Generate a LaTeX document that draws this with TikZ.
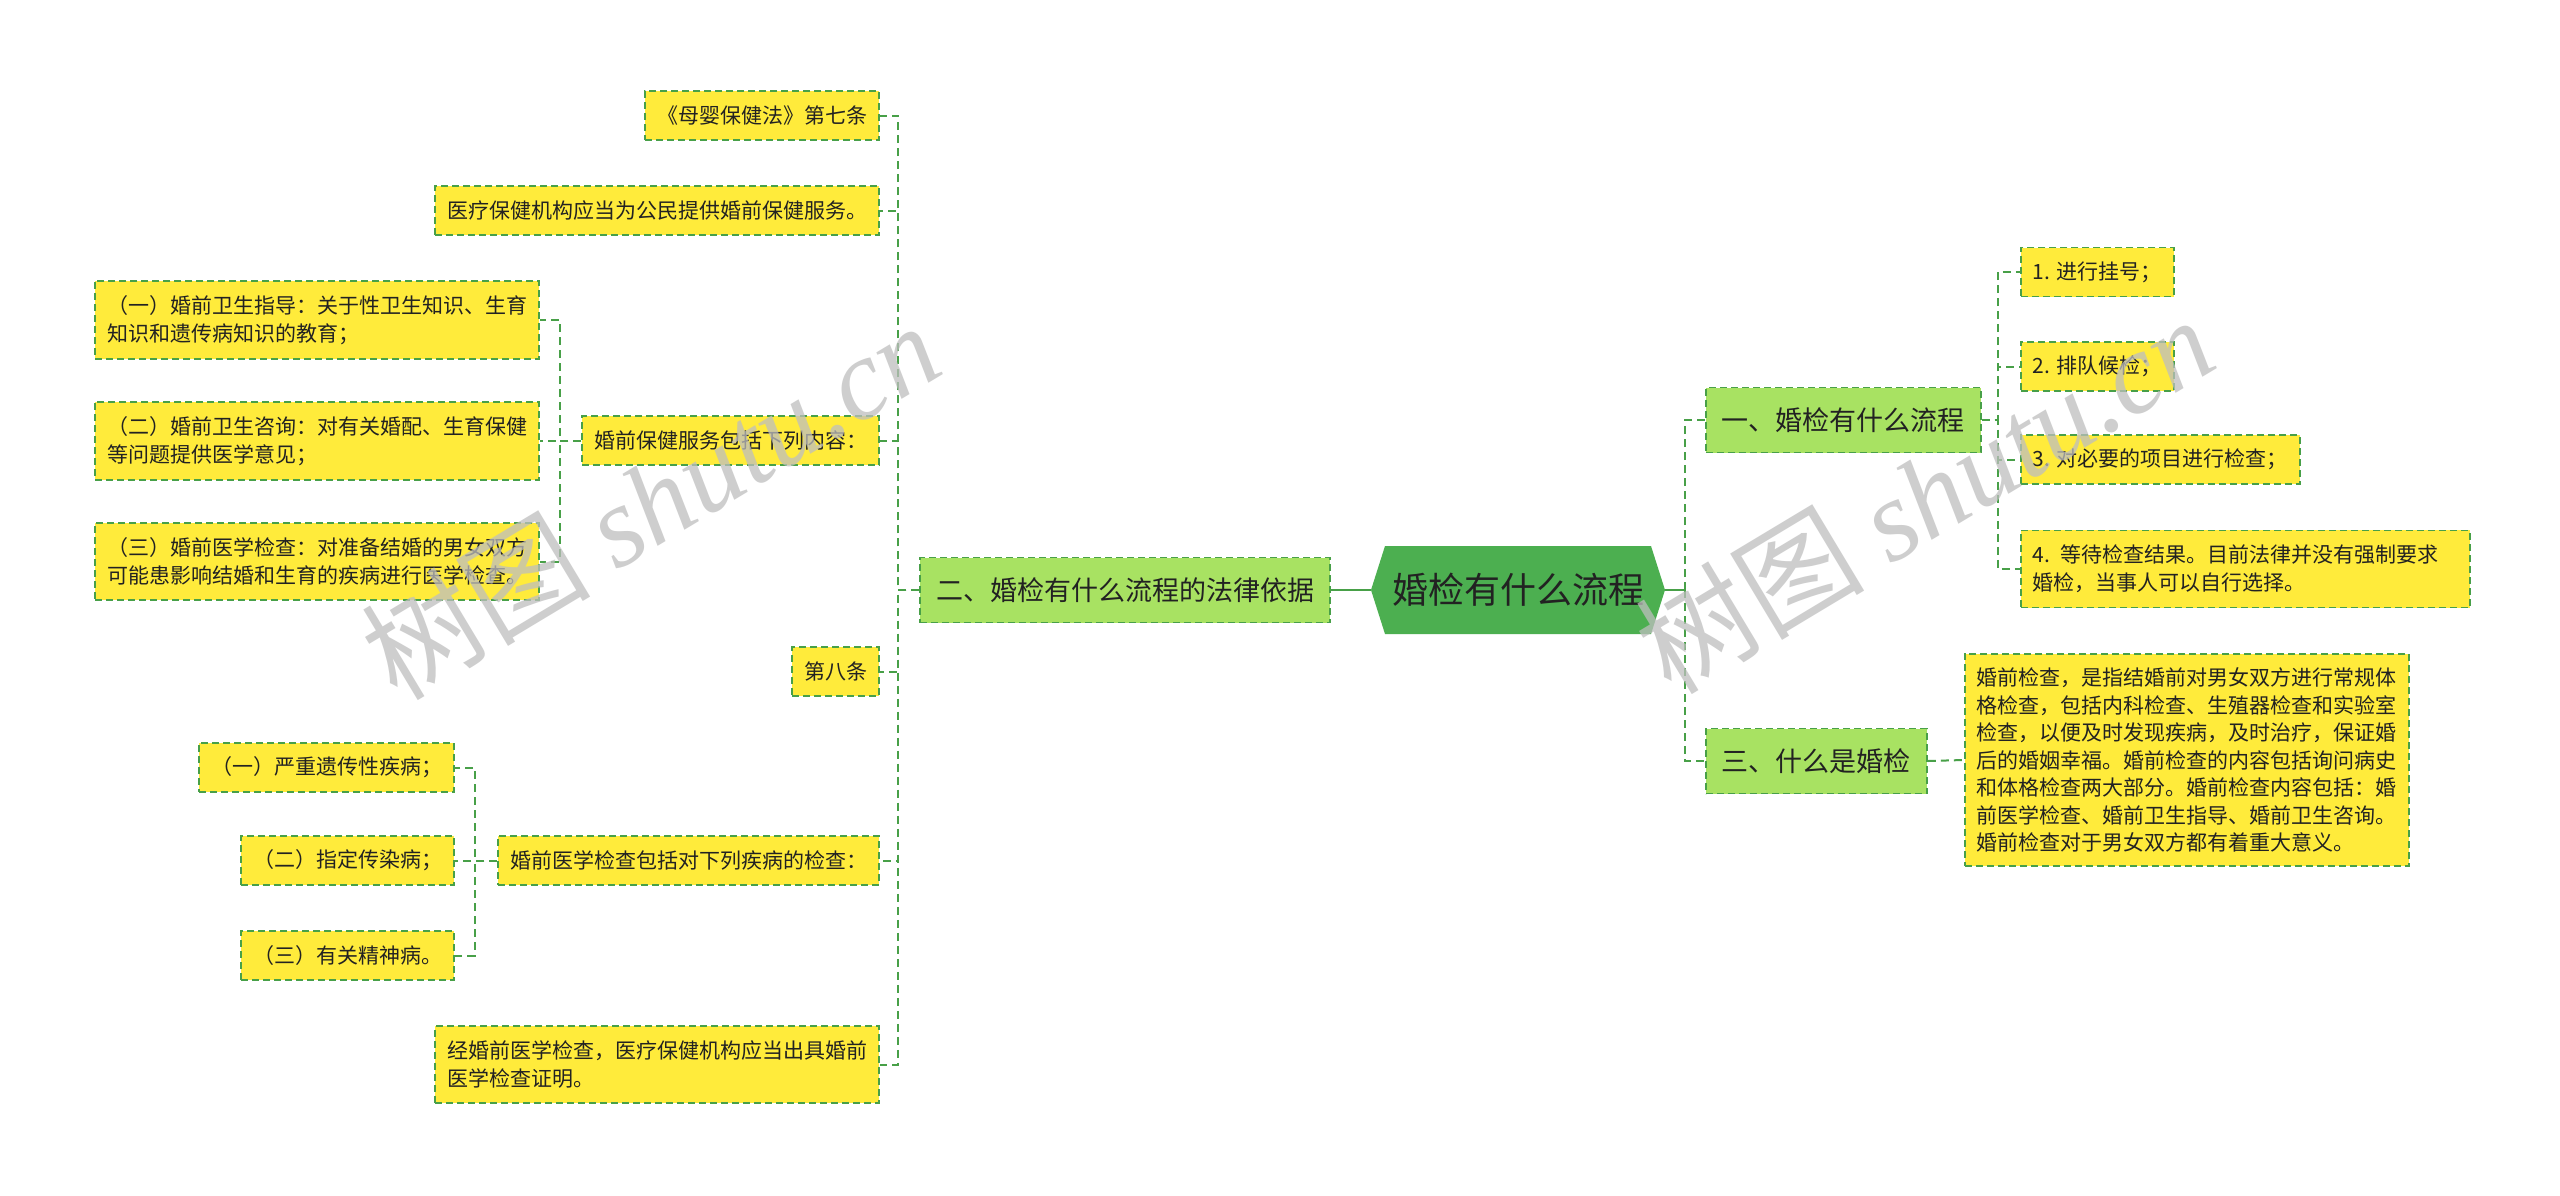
\documentclass[tikz,border=0pt]{standalone}
\usepackage{fontspec}
\setmainfont{Noto Sans CJK SC}
\newfontfamily\wmserif{Liberation Serif}
\usetikzlibrary{calc}
\definecolor{boxYellow}{RGB}{255,235,59}
\definecolor{lineGreen}{RGB}{72,160,72}
\definecolor{lvlGreen}{RGB}{168,226,98}
\definecolor{centerGreen}{RGB}{76,175,80}
\definecolor{textDark}{RGB}{34,34,34}
\definecolor{wmGray}{RGB}{190,190,190}
\tikzset{
  leaf/.style={draw=lineGreen, line width=1.8pt, dash pattern=on 7pt off 4pt, fill=boxYellow,
    font=\fontsize{21}{28}\selectfont, text=textDark, inner xsep=12pt, inner ysep=0pt,
    minimum height=49pt, align=left},
  multi/.style={leaf, inner ysep=14.5pt},
  bigbox/.style={leaf, font=\fontsize{21}{27.5}\selectfont, inner ysep=14pt},
  lvl/.style={draw=lineGreen, line width=1.8pt, dash pattern=on 7pt off 4pt, fill=lvlGreen,
    font=\fontsize{27}{32}\selectfont, text=textDark, inner xsep=16pt, inner ysep=0pt,
    minimum height=65pt},
  hexnode/.style={font=\fontsize{36}{40}\selectfont, text=textDark, minimum width=294pt,
    minimum height=88pt, inner sep=0pt},
  conn/.style={draw=lineGreen, line width=2pt, dash pattern=on 8pt off 5pt},
  solidconn/.style={draw=lineGreen, line width=2pt},
  watermark/.style={text=wmGray, opacity=0.75, font=\fontsize{115}{120}\selectfont, inner sep=0pt}
}
\begin{document}
\begin{tikzpicture}[x=1pt,y=-1pt]
\useasboundingbox (0,0) rectangle (2560,1195);
\fill[white] (0,0) rectangle (2560,1195);

% center hexagon
\fill[centerGreen] (1371,590) -- (1385,546) -- (1651,546) -- (1665,590) -- (1651,634) -- (1385,634) -- cycle;
\node[hexnode] (c) at (1518,590) {婚检有什么流程};

% level 1
\node[lvl, anchor=east] (L2) at (1331,590) {二、婚检有什么流程的法律依据};
\node[lvl, anchor=west] (L1) at (1705,420) {一、婚检有什么流程};
\node[lvl, anchor=west] (L3) at (1705,761) {三、什么是婚检};

% left leaves
\node[leaf, anchor=east] (n7) at (880,115.5) {《母婴保健法》第七条};
\node[leaf, anchor=east] (nYL) at (880,210.5) {医疗保健机构应当为公民提供婚前保健服务。};
\node[leaf, anchor=east] (nSvc) at (880,440.5) {婚前保健服务包括下列内容：};
\node[multi, anchor=east] (s1) at (540,320) {（一）婚前卫生指导：关于性卫生知识、生育\\知识和遗传病知识的教育；};
\node[multi, anchor=east] (s2) at (540,441) {（二）婚前卫生咨询：对有关婚配、生育保健\\等问题提供医学意见；};
\node[multi, anchor=east] (s3) at (540,561.5) {（三）婚前医学检查：对准备结婚的男女双方\\可能患影响结婚和生育的疾病进行医学检查。};
\node[leaf, anchor=east] (n8) at (880,671.5) {第八条};
\node[leaf, anchor=east] (nExam) at (880,860.5) {婚前医学检查包括对下列疾病的检查：};
\node[leaf, anchor=east] (e1) at (455,767.5) {（一）严重遗传性疾病；};
\node[leaf, anchor=east] (e2) at (455,860.5) {（二）指定传染病；};
\node[leaf, anchor=east] (e3) at (455,955.5) {（三）有关精神病。};
\node[multi, anchor=east] (nCert) at (880,1064.5) {经婚前医学检查，医疗保健机构应当出具婚前\\医学检查证明。};

% right leaves
\node[leaf, anchor=west] (r1) at (2020,272) {1. 进行挂号；};
\node[leaf, anchor=west] (r2) at (2020,366.5) {2. 排队候检；};
\node[leaf, anchor=west] (r3) at (2020,459.5) {3. 对必要的项目进行检查；};
\node[multi, anchor=west, text width=425pt] (r4) at (2020,569) {4. 等待检查结果。目前法律并没有强制要求\\婚检，当事人可以自行选择。};
\node[bigbox, anchor=west] (big) at (1964,760) {婚前检查，是指结婚前对男女双方进行常规体\\格检查，包括内科检查、生殖器检查和实验室\\检查，以便及时发现疾病，及时治疗，保证婚\\后的婚姻幸福。婚前检查的内容包括询问病史\\和体格检查两大部分。婚前检查内容包括：婚\\前医学检查、婚前卫生指导、婚前卫生咨询。\\婚前检查对于男女双方都有着重大意义。};

% trunk coordinates
\coordinate (tL) at (898,590);
\coordinate (tS) at (560,440.5);
\coordinate (tE) at (475,860.5);
\coordinate (tR) at (1685,590);
\coordinate (tR1) at (1998,420);

% center connectors
\draw[solidconn] (c.west) -- (L2.east);
\draw[solidconn] (c.east) -- (tR);

% left trunk
\foreach \n in {n7,nYL,nSvc,n8,nExam,nCert}
  \draw[conn] (L2.west) -- (tL) |- (\n.east);
\foreach \n in {s1,s2,s3}
  \draw[conn] (nSvc.west) -- (tS) |- (\n.east);
\foreach \n in {e1,e2,e3}
  \draw[conn] (nExam.west) -- (tE) |- (\n.east);

% right trunk
\draw[conn] (tR) |- (L1.west);
\draw[conn] (tR) |- (L3.west);
\foreach \n in {r1,r2,r3,r4}
  \draw[conn] (L1.east) -- (tR1) |- (\n.west);
\draw[conn] (L3.east) -- (big.west);

% watermarks
\node[watermark, rotate=31] (wm1) at (650,500) {树图 {\wmserif\itshape shutu.cn}};
\node[watermark, rotate=31] (wm2) at (1924,494) {树图 {\wmserif\itshape shutu.cn}};
\end{tikzpicture}
\end{document}
